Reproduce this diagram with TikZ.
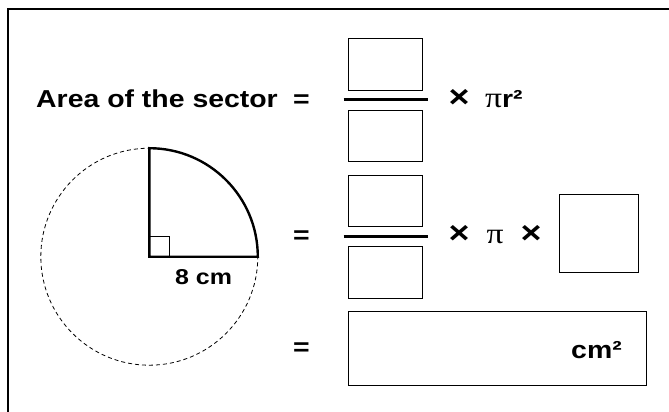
\documentclass[tikz,border=0pt]{standalone}
\usepackage{fontspec}
\setmainfont{Liberation Sans}[FakeStretch=1.16]
\newfontfamily\pifont{Liberation Serif}[FakeStretch=1.16]

\begin{document}
\begin{tikzpicture}[x=1pt,y=-1pt,
  txt/.style={inner sep=0pt,font=\fontsize{24.5}{29}\selectfont\bfseries},
  times/.style={txt,font=\fontsize{31}{34}\selectfont\bfseries},
  blank/.style={draw,line width=0.8pt,inner sep=0pt},
  bar/.style={line width=2.8pt},
  edge/.style={line width=2.4pt}]
\useasboundingbox (0,0) rectangle (669,412);
\clip (0,0) rectangle (669,412);
\draw[line width=2pt] (8,9) rectangle (700,440);
% sector
\coordinate (O) at (149.3,256.7);
\draw[line width=0.8pt,dash pattern=on 4pt off 3pt] (O) circle (108.5pt);
\draw[edge] (O) -- ++(0,-108.5) arc (90:0:108.5pt) -- cycle;
\draw[line width=0.8pt] (O) rectangle ++(20,-20);
\node[txt,anchor=base west,font=\fontsize{21.5}{26}\selectfont\bfseries] (r) at (175,284) {8 cm};
% first line
\node[txt,anchor=base west] (area) at (36,107) {Area of the sector};
\node[txt,anchor=base] (eq1) at (301.5,107) {=};
\node[blank,minimum width=74pt,minimum height=51.5pt] (num1) at (385.5,64.3) {};
\node[blank,minimum width=74pt,minimum height=51.5pt] (den1) at (385.5,135.8) {};
\draw[bar] (343.5,99.7) -- (428,99.7);
\node[times,anchor=base] (x1) at (459,107) {×};
\node[txt,anchor=base west] (pr) at (485,107) {{\pifont\mdseries\fontsize{29}{30}\selectfont π}r²};
% second line
\node[txt,anchor=base] (eq2) at (301.5,243) {=};
\node[blank,minimum width=74pt,minimum height=51.5pt] (num2) at (385.5,200.8) {};
\node[blank,minimum width=74pt,minimum height=51.5pt] (den2) at (385.5,272.5) {};
\draw[bar] (343.5,236.7) -- (428,236.7);
\node[times,anchor=base] (x2) at (459,243) {×};
\node[txt,anchor=base,font=\pifont\fontsize{29}{30}\selectfont] (p2) at (495,243) {π};
\node[times,anchor=base] (x3) at (531,243) {×};
\node[blank,minimum width=78.5pt,minimum height=78pt] (rad) at (598.8,233.6) {};
% third line
\node[txt,anchor=base] (eq3) at (301.5,355) {=};
\node[blank,minimum width=297.5pt,minimum height=73.3pt] (ans) at (497.3,348.3) {};
\node[txt,anchor=base west] (unit) at (571,358) {cm²};
\end{tikzpicture}
\end{document}
